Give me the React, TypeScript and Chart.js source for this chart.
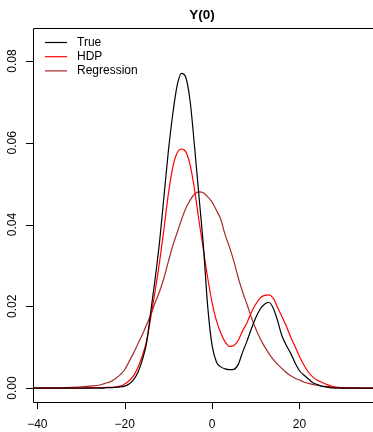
import React, { useEffect, useRef } from "react";
import { Chart, registerables } from "chart.js";

Chart.register(...registerables);

const xs = [-41, -36, -32, -30, -28, -26, -25, -24, -23, -22, -21, -20, -19, -18, -17, -16, -15, -14, -13, -12, -11, -10, -9, -8, -7, -6, -5, -4, -3, -2, -1, 0, 1, 2, 3, 4, 5, 6, 7, 8, 9, 10, 11, 12, 13, 14, 15, 16, 17, 18, 19, 20, 21, 22, 23, 24, 25, 26, 27, 28, 29, 30, 32, 35, 38];

const trueDensity = [0, 0, 0, 0, 0, 0, 0, 0.0001, 0.0001, 0.0002, 0.0003, 0.0005, 0.001, 0.002, 0.0038, 0.0068, 0.011, 0.019, 0.027, 0.036, 0.047, 0.058, 0.067, 0.074, 0.077, 0.076, 0.07, 0.059, 0.047, 0.035, 0.02, 0.0105, 0.0064, 0.0052, 0.0047, 0.0045, 0.0046, 0.0058, 0.0088, 0.0115, 0.0145, 0.0172, 0.0193, 0.0205, 0.021, 0.0196, 0.0165, 0.0128, 0.0105, 0.0085, 0.0062, 0.0043, 0.0032, 0.0023, 0.0014, 0.0009, 0.0005, 0.0003, 0.0001, 0, 0, 0, 0, 0, 0];

const hdpDensity = [0, 0, 0, 0, 0.0001, 0.0001, 0.0001, 0.0002, 0.0002, 0.0003, 0.0005, 0.001, 0.0018, 0.003, 0.005, 0.0078, 0.0115, 0.0175, 0.024, 0.031, 0.039, 0.0475, 0.054, 0.0575, 0.0585, 0.0578, 0.0545, 0.0485, 0.041, 0.034, 0.027, 0.021, 0.0165, 0.0135, 0.0113, 0.0102, 0.0104, 0.0117, 0.014, 0.016, 0.0185, 0.0205, 0.022, 0.0227, 0.0228, 0.022, 0.0198, 0.0175, 0.0152, 0.0125, 0.0102, 0.0078, 0.0057, 0.004, 0.0028, 0.002, 0.0015, 0.001, 0.0006, 0.0003, 0.0001, 0, 0, 0, 0];

const regressionDensity = [0, 0.0001, 0.0002, 0.0003, 0.0005, 0.0007, 0.001, 0.0013, 0.0017, 0.0024, 0.0033, 0.0045, 0.0065, 0.0085, 0.0108, 0.013, 0.0155, 0.018, 0.021, 0.0237, 0.027, 0.031, 0.0348, 0.038, 0.0412, 0.044, 0.046, 0.0475, 0.048, 0.0478, 0.0468, 0.0455, 0.0435, 0.0413, 0.0375, 0.0345, 0.031, 0.027, 0.0235, 0.0205, 0.0173, 0.0145, 0.0122, 0.0102, 0.0085, 0.007, 0.0058, 0.0048, 0.0038, 0.003, 0.0024, 0.002, 0.0015, 0.0012, 0.0009, 0.0007, 0.0005, 0.0004, 0.0003, 0.0002, 0.0002, 0.0001, 0.0001, 0, 0];

const seriesNames = ["True", "HDP", "Regression"];
const seriesColors = ["#000000", "#FF0000", "#A52A2A"];

const xTicks = [-40, -20, 0, 20];
const xTickLabels = ["\u221240", "\u221220", "0", "20"];
const yTicks = [0, 0.02, 0.04, 0.06, 0.08];
const yTickLabels = ["0.00", "0.02", "0.04", "0.06", "0.08"];
const title = "Y(0)";

const FONT = '"Liberation Sans", Arial, Helvetica, sans-serif';

const rAxesPlugin = {
  id: "rAxes",
  afterDraw(chart: any) {
    const ctx = chart.ctx;
    const area = chart.chartArea;
    const xs_ = chart.scales.x;
    const ys_ = chart.scales.y;
    ctx.save();
    ctx.strokeStyle = "#000";
    ctx.lineWidth = 1;
    ctx.beginPath();
    ctx.rect(Math.round(area.left) + 0.5, Math.round(area.top) + 0.5, Math.round(area.right - area.left), Math.round(area.bottom - area.top));
    ctx.stroke();
    ctx.fillStyle = "#000";
    ctx.font = "12px " + FONT;
    ctx.textAlign = "center";
    ctx.textBaseline = "middle";
    xTicks.forEach((v, i) => {
      const px = Math.round(xs_.getPixelForValue(v)) + 0.5;
      ctx.beginPath();
      ctx.moveTo(px, area.bottom);
      ctx.lineTo(px, area.bottom + 7);
      ctx.stroke();
      ctx.fillText(xTickLabels[i], xs_.getPixelForValue(v), area.bottom + 23);
    });
    yTicks.forEach((v, i) => {
      const py = Math.round(ys_.getPixelForValue(v)) + 0.5;
      ctx.beginPath();
      ctx.moveTo(area.left - 7, py);
      ctx.lineTo(area.left, py);
      ctx.stroke();
      ctx.save();
      ctx.translate(area.left - 20, ys_.getPixelForValue(v));
      ctx.rotate(-Math.PI / 2);
      ctx.fillText(yTickLabels[i], 0, 0);
      ctx.restore();
    });
    ctx.font = "bold 13.5px " + FONT;
    ctx.fillText(title, 202, 15);
    ctx.font = "12px " + FONT;
    ctx.textAlign = "left";
    seriesNames.forEach((name, i) => {
      const ly = 42.5 + i * 14.2;
      ctx.strokeStyle = seriesColors[i];
      ctx.lineWidth = 1.2;
      ctx.beginPath();
      ctx.moveTo(45, ly);
      ctx.lineTo(67, ly);
      ctx.stroke();
      ctx.fillStyle = "#000";
      ctx.fillText(name, 77, ly);
    });
    ctx.restore();
  },
};

export default function App() {
  const ref = useRef<HTMLCanvasElement | null>(null);
  useEffect(() => {
    if (!ref.current) return;
    const mk = (vals: number[]) => xs.map((x, i) => ({ x, y: vals[i] }));
    const all = [trueDensity, hdpDensity, regressionDensity];
    const chart = new Chart(ref.current, {
      type: "line",
      data: {
        datasets: all.map((vals, i) => ({
          label: seriesNames[i],
          data: mk(vals),
          borderColor: seriesColors[i],
          borderWidth: 1.2,
          pointRadius: 0,
          fill: false,
          cubicInterpolationMode: "monotone" as const,
        })),
      },
      options: {
        animation: false,
        responsive: false,
        maintainAspectRatio: false,
        devicePixelRatio: 1,
        layout: { padding: { left: 33, top: 28, right: 12, bottom: 30 } },
        plugins: { legend: { display: false }, tooltip: { enabled: false }, title: { display: false } },
        scales: {
          x: { type: "linear", min: -41, max: 38, display: false },
          y: { type: "linear", min: -0.0034, max: 0.0881, display: false },
        },
      },
      plugins: [rAxesPlugin],
    });
    return () => chart.destroy();
  }, []);
  return (
    <div style={{ position: "absolute", left: 0, top: 0, width: 373, height: 432, overflow: "hidden", background: "#fff" }}>
      <canvas ref={ref} width={390} height={432} style={{ width: 390, height: 432, display: "block" }} />
    </div>
  );
}
